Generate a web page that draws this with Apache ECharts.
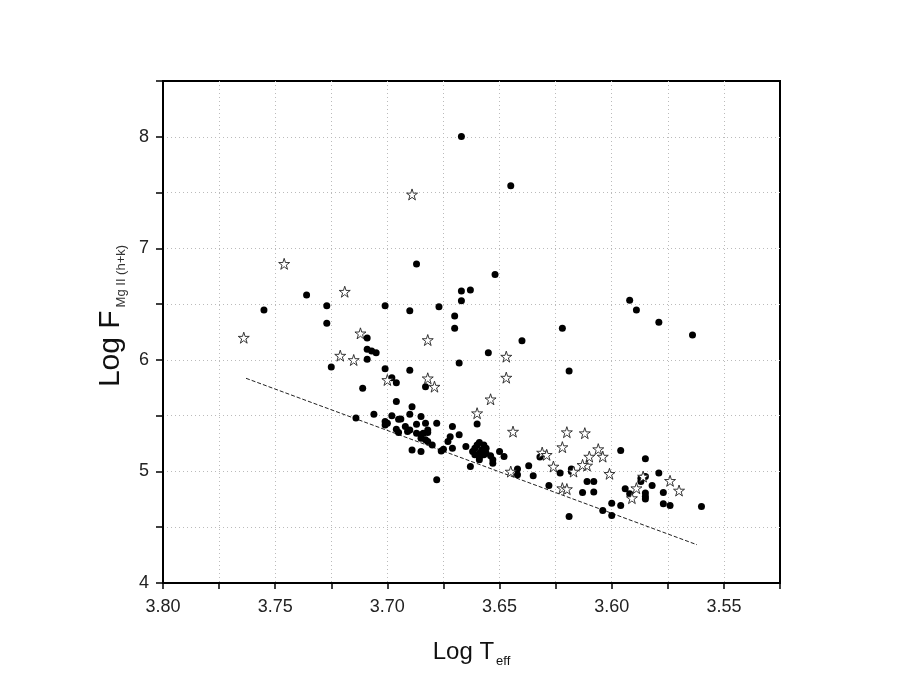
<!DOCTYPE html>
<html>
<head>
<meta charset="utf-8">
<title>Log F MgII vs Log Teff</title>
<script src="https://cdn.jsdelivr.net/npm/echarts@6/dist/echarts.min.js"></script>
<style>
  html, body { margin: 0; padding: 0; background: #fff; }
  #chart { width: 905px; height: 697px; }
</style>
</head>
<body>
<div id="chart"></div>
<script>
// filled circles
var dotLogT = [
  3.755, 3.736, 3.727, 3.727, 3.701, 3.690, 3.677, 3.667, 3.663, 3.667,
  3.670, 3.670, 3.668, 3.709, 3.709, 3.707, 3.705, 3.709, 3.725, 3.701,
  3.690, 3.698, 3.714, 3.667, 3.645, 3.687, 3.652, 3.592, 3.589, 3.711,
  3.696, 3.683, 3.696, 3.689, 3.706, 3.698, 3.690, 3.685, 3.701, 3.700,
  3.701, 3.695, 3.694, 3.687, 3.683, 3.678, 3.696, 3.695, 3.692, 3.691,
  3.690, 3.687, 3.685, 3.684, 3.682, 3.682, 3.685, 3.683, 3.682, 3.680,
  3.689, 3.685, 3.671, 3.668, 3.672, 3.673, 3.671, 3.676, 3.675, 3.678,
  3.665, 3.662, 3.661, 3.660, 3.659, 3.657, 3.656, 3.658, 3.659, 3.661,
  3.659, 3.659, 3.657, 3.656, 3.654, 3.653, 3.653, 3.663, 3.650, 3.648,
  3.660, 3.642, 3.642, 3.637, 3.635, 3.628, 3.632, 3.622, 3.579, 3.564,
  3.640, 3.655, 3.619, 3.596, 3.585, 3.579, 3.623, 3.618, 3.618, 3.613,
  3.611, 3.608, 3.608, 3.619, 3.604, 3.600, 3.600, 3.596, 3.594, 3.592,
  3.587, 3.587, 3.585, 3.585, 3.585, 3.585, 3.582, 3.577, 3.577, 3.574,
  3.560
];
var dotLogF = [
  6.447, 6.581, 6.485, 6.328, 6.485, 6.440, 6.476, 6.617, 6.626, 6.530,
  6.393, 6.283, 5.972, 6.196, 6.095, 6.080, 6.064, 6.005, 5.936, 5.921,
  5.907, 5.841, 5.480, 8.002, 7.560, 6.859, 6.766, 6.534, 6.447, 5.746,
  5.796, 5.760, 5.626, 5.581, 5.513, 5.500, 5.513, 5.492, 5.447, 5.432,
  5.417, 5.468, 5.471, 5.423, 5.432, 5.432, 5.379, 5.348, 5.402, 5.357,
  5.372, 5.343, 5.328, 5.343, 5.348, 5.372, 5.298, 5.283, 5.268, 5.238,
  5.193, 5.178, 5.402, 5.328, 5.312, 5.268, 5.209, 5.184, 5.200, 4.925,
  5.223, 5.178, 5.209, 5.238, 5.259, 5.238, 5.209, 5.193, 5.164, 5.149,
  5.128, 5.104, 5.149, 5.164, 5.140, 5.104, 5.074, 5.044, 5.178, 5.133,
  5.426, 5.021, 4.970, 5.050, 4.961, 4.874, 5.130, 6.283, 6.337, 6.223,
  6.172, 6.064, 5.901, 5.187, 5.113, 4.985, 4.985, 5.021, 4.999, 4.811,
  4.910, 4.910, 4.815, 4.596, 4.650, 4.716, 4.605, 4.695, 4.844, 4.799,
  4.910, 4.940, 4.954, 4.806, 4.775, 4.752, 4.874, 4.811, 4.710, 4.695,
  4.686
];
// open stars
var starLogT = [
  3.764, 3.746, 3.719, 3.712, 3.721, 3.715, 3.682, 3.700, 3.682, 3.679,
  3.689, 3.647, 3.647, 3.654, 3.660, 3.644, 3.645, 3.631, 3.629, 3.626,
  3.620, 3.612, 3.622, 3.617, 3.622, 3.620, 3.606, 3.604, 3.610, 3.611,
  3.613, 3.601, 3.586, 3.589, 3.591, 3.574, 3.570
];
var starLogF = [
  6.199, 6.861, 6.611, 6.238, 6.038, 5.999, 6.178, 5.820, 5.835, 5.760,
  7.483, 6.029, 5.841, 5.647, 5.522, 5.357, 4.999, 5.169, 5.149, 5.044,
  5.352, 5.343, 5.218, 4.999, 4.850, 4.842, 5.200, 5.133, 5.133, 5.053,
  5.059, 4.979, 4.954, 4.850, 4.761, 4.916, 4.829
];
// fitted lower boundary
var fitLogT = [3.763, 3.562];
var fitLogF = [5.835, 4.343];

function zip(a, b) {
  return a.map(function (v, i) { return [v, b[i]]; });
}

var starPath = 'path://M50 0 L61.23 34.55 L97.55 34.55 L68.17 55.9 L79.39 90.45 L50 69.1 L20.61 90.45 L31.83 55.9 L2.45 34.55 L38.77 34.55 Z';
var fontFamily = '"Liberation Sans", Arial, sans-serif';

var chart = echarts.init(document.getElementById('chart'), null, { renderer: 'canvas' });

var gridDots = { show: true, showMinLine: false, showMaxLine: false, lineStyle: { color: '#bbb', type: [1, 3], width: 1 } };

var option = {
  backgroundColor: '#fff',
  animation: false,
  grid: {
    left: 163, right: 125, top: 81, bottom: 114,
    show: true, borderColor: '#000', borderWidth: 2, backgroundColor: 'transparent'
  },
  xAxis: {
    type: 'value',
    inverse: true,
    min: 3.525,
    max: 3.80,
    interval: 0.025,
    name: 'Log T{sub|eff}',
    nameLocation: 'middle',
    nameGap: 53,
    nameTextStyle: {
      fontSize: 24, color: '#111', fontFamily: fontFamily,
      rich: { sub: { fontSize: 13, color: '#111', fontFamily: fontFamily, padding: [19, 0, 0, 2] } }
    },
    axisLine: { lineStyle: { color: '#000', width: 2 } },
    axisTick: { length: 6, lineStyle: { color: '#000', width: 1.5 } },
    axisLabel: {
      interval: 0, fontSize: 18, color: '#222', fontFamily: fontFamily, margin: 15,
      formatter: function (v) {
        var k = v * 20;
        return Math.abs(k - Math.round(k)) < 1e-6 ? v.toFixed(2) : '';
      }
    },
    splitLine: gridDots
  },
  yAxis: {
    type: 'value',
    min: 4,
    max: 8.5,
    interval: 0.5,
    name: 'Log F{sub|Mg II (h+k)}',
    nameLocation: 'middle',
    nameGap: 33,
    nameTextStyle: {
      fontSize: 30, color: '#111', fontFamily: fontFamily, padding: [0, 0, 0, 32],
      rich: { sub: { fontSize: 13, color: '#333', fontFamily: fontFamily, padding: [22, 0, 0, 3] } }
    },
    axisLine: { lineStyle: { color: '#000', width: 2 } },
    axisTick: { length: 7, lineStyle: { color: '#000', width: 1.5 } },
    axisLabel: {
      interval: 0, fontSize: 18, color: '#222', fontFamily: fontFamily, margin: 14,
      formatter: function (v) {
        return Math.abs(v - Math.round(v)) < 1e-6 ? String(Math.round(v)) : '';
      }
    },
    splitLine: gridDots
  },
  series: [
    {
      name: 'fit',
      type: 'line',
      data: zip(fitLogT, fitLogF),
      symbol: 'none',
      lineStyle: { color: '#222', width: 1, type: [4, 2] },
      z: 2
    },
    {
      name: 'dots',
      type: 'scatter',
      data: zip(dotLogT, dotLogF),
      symbol: 'circle',
      symbolSize: 7,
      itemStyle: { color: '#000', opacity: 1 },
      z: 3
    },
    {
      name: 'stars',
      type: 'scatter',
      data: zip(starLogT, starLogF),
      symbol: starPath,
      symbolSize: 11,
      itemStyle: { color: '#fff', borderColor: '#222', borderWidth: 0.9, opacity: 1 },
      z: 4
    }
  ]
};

chart.setOption(option);
</script>
</body>
</html>
